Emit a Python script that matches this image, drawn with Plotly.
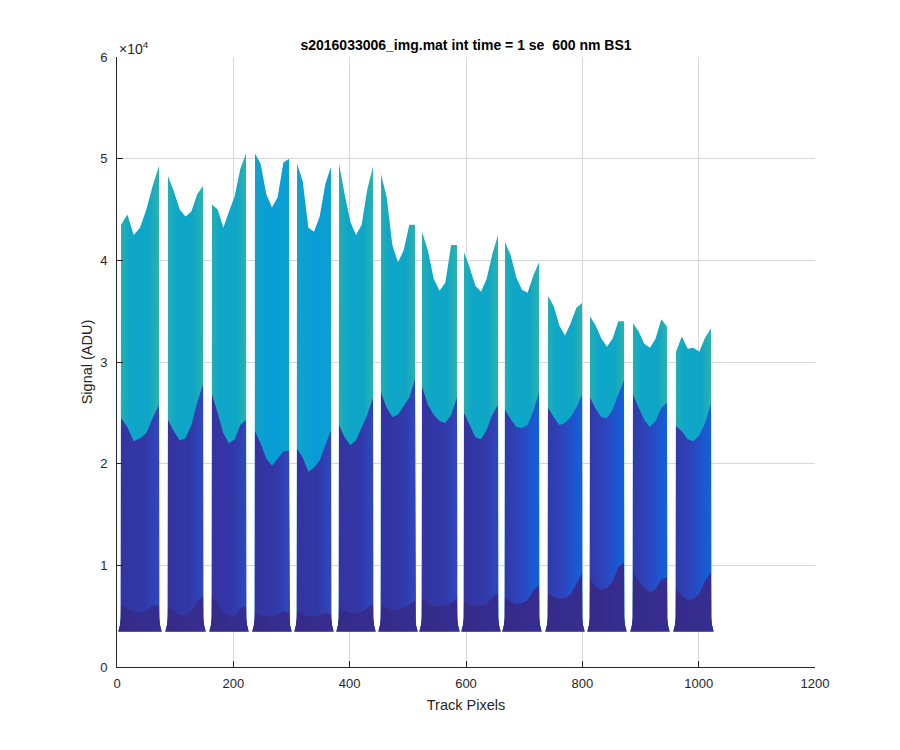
import plotly.graph_objects as go

# ---- data (signal in ADU) ----
seg_start = [6.9, 87.7, 163.3, 237.2, 309.5, 381.7, 453.9, 524.4, 596.6, 667.0, 741.0, 813.2, 887.1, 961.0]
seg_end = [72.2, 147.9, 221.8, 295.7, 367.9, 440.1, 512.3, 584.5, 655.0, 725.5, 799.4, 871.6, 945.5, 1021.2]

# upper envelope (7 samples across each segment)
top_signal = [
    [43500, 44500, 42500, 43200, 45000, 47300, 49300],
    [48300, 46800, 45000, 44300, 44800, 46500, 47300],
    [45500, 45000, 43200, 44800, 46300, 49000, 50500],
    [50500, 49500, 46500, 45200, 46200, 49600, 50000],
    [49500, 47800, 43200, 42800, 44300, 47500, 49200],
    [49500, 46500, 43800, 42500, 43500, 47000, 49200],
    [48500, 46200, 41500, 39800, 41000, 43500, 43500],
    [42800, 41000, 38200, 37000, 37800, 41500, 41500],
    [40800, 39300, 37500, 36900, 38200, 40600, 42500],
    [41800, 40500, 38300, 37100, 36800, 38500, 39800],
    [36500, 35500, 33600, 32600, 33800, 35300, 35800],
    [34500, 33600, 32300, 31500, 32300, 34000, 34000],
    [33800, 33000, 31800, 31400, 32300, 34200, 33500],
    [31000, 32500, 31300, 31400, 31000, 32400, 33300],
]
# teal / blue boundary
mid_signal = [
    [24500, 23600, 22200, 22500, 23000, 24500, 25800],
    [24300, 23200, 22300, 22500, 23800, 26000, 27800],
    [26800, 25000, 23000, 22000, 22400, 23800, 24300],
    [23200, 22000, 20500, 19800, 20500, 21200, 21300],
    [21500, 20600, 19200, 19600, 20300, 21800, 23300],
    [23800, 22600, 21800, 22300, 23500, 24800, 26500],
    [27000, 25500, 24600, 24800, 25600, 26500, 28300],
    [27600, 25800, 24800, 24200, 24000, 24800, 26500],
    [25000, 23800, 22600, 22400, 23300, 24800, 25800],
    [25300, 24400, 23600, 23500, 23800, 25200, 27000],
    [25500, 24600, 23800, 24000, 24600, 25500, 26800],
    [26500, 25400, 24600, 24500, 25300, 26800, 28200],
    [26800, 25500, 24300, 23600, 24200, 25500, 26000],
    [23700, 23200, 22400, 22200, 22800, 24000, 26000],
]
# dark lower band
low_signal = [
    [6200, 5700, 5400, 5300, 5500, 6100, 6000],
    [5900, 5500, 5100, 5100, 5500, 6500, 7000],
    [7100, 6300, 5400, 5000, 5000, 5800, 6000],
    [5400, 5100, 5000, 5000, 5100, 5500, 5300],
    [5600, 5200, 5000, 5000, 5100, 5300, 5200],
    [5800, 5500, 5300, 5300, 5400, 5800, 6200],
    [6000, 5800, 5600, 5600, 5800, 6200, 6500],
    [6800, 6300, 6000, 6000, 6000, 6300, 6800],
    [6500, 6200, 6000, 6000, 6200, 6800, 7300],
    [6800, 6400, 6200, 6300, 6600, 7500, 8100],
    [7200, 6900, 6700, 6800, 7100, 8200, 9200],
    [8600, 7900, 7600, 7800, 8400, 9800, 10300],
    [9300, 8500, 7800, 7300, 7700, 8600, 8800],
    [7600, 7000, 6600, 6700, 7200, 8500, 9300],
]
baseline_signal = 3500

x_tick_vals = [0, 200, 400, 600, 800, 1000, 1200]
y_tick_vals = [0, 10000, 20000, 30000, 40000, 50000, 60000]
y_tick_text = ["0", "1", "2", "3", "4", "5", "6"]

# ---- styles ----
teal_green = [[0, "#27b1ae"], [0.3, "#0ea6c9"], [0.7, "#0fa6c6"], [1, "#36b6a3"]]
teal_blue = [[0, "#12a3cb"], [0.5, "#089cd7"], [1, "#0da2cf"]]
teal_kind = ["g", "g", "g", "b", "b", "g", "g", "g", "g", "g", "g", "g", "g", "g"]
blue_dim = [[0, "#3433a0"], [0.6, "#3238a8"], [1, "#2e4bc0"]]
blue_bright = [[0, "#3337a6"], [0.5, "#2b47bf"], [1, "#0b67de"]]
blue_kind = ["d"] * 9 + ["b"] * 5
navy_scale = [[0, "#352a87"], [1, "#352e92"]]


def polygon(s, e, prof):
    n = len(prof)
    xs = [s + (e - s) * i / (n - 1) for i in range(n)]
    px = [s - 4.5, s - 1.8, s - 0.5] + xs + [e + 0.5, e + 1.8, e + 4.5]
    py = [baseline_signal, baseline_signal + 600, baseline_signal + 1300] + list(prof) + \
         [baseline_signal + 1300, baseline_signal + 600, baseline_signal]
    return px, py


fig = go.Figure()
for k in range(len(seg_start)):
    s, e = seg_start[k], seg_end[k]
    layers = [
        (top_signal[k], teal_green if teal_kind[k] == "g" else teal_blue),
        (mid_signal[k], blue_dim if blue_kind[k] == "d" else blue_bright),
        (low_signal[k], navy_scale),
    ]
    for prof, cs in layers:
        px, py = polygon(s, e, prof)
        fig.add_trace(go.Scatter(
            x=px, y=py, mode="lines", fill="toself",
            line=dict(width=0, color=cs[1][1]),
            fillgradient=dict(type="horizontal", colorscale=cs),
            hoverinfo="skip", showlegend=False,
        ))

FAM = "Liberation Sans, Arial, sans-serif"
tick_font = dict(family=FAM, size=13, color="#262626")
label_font = dict(family=FAM, size=14.5, color="#262626")

fig.update_layout(
    width=900, height=750,
    margin=dict(l=109, r=93, t=49, b=91),
    paper_bgcolor="white", plot_bgcolor="white",
    font=tick_font,
    title=dict(
        text="<b>s2016033006_img.mat int time = 1 se  600 nm BS1</b>",
        x=0.5, xref="paper", xanchor="center",
        y=1 - 37 / 750, yref="container", yanchor="middle",
        font=dict(family=FAM, size=14, color="black"),
    ),
    xaxis=dict(
        range=[0, 1200], tickvals=x_tick_vals, ticks="inside", ticklen=6,
        tickcolor="#262626", showline=True, linecolor="#262626", linewidth=1,
        showgrid=True, gridcolor="#d6d6d6", gridwidth=1, zeroline=False,
        title=dict(text="Track Pixels", font=label_font, standoff=10),
        tickfont=tick_font, ticklabelstandoff=4,
    ),
    yaxis=dict(
        range=[0, 60000], tickvals=y_tick_vals, ticktext=y_tick_text,
        ticks="inside", ticklen=6, tickcolor="#262626",
        showline=True, linecolor="#262626", linewidth=1,
        showgrid=True, gridcolor="#d6d6d6", gridwidth=1, zeroline=False,
        title=dict(text="Signal (ADU)", font=label_font, standoff=4),
        tickfont=tick_font, ticklabelstandoff=6,
    ),
    annotations=[dict(
        text="×10<sup>4</sup>", xref="paper", yref="paper", x=0, y=1,
        xanchor="left", yanchor="bottom", yshift=-2, showarrow=False,
        font=dict(family=FAM, size=14, color="#262626"),
    )],
)

fig.write_html("out.html")
